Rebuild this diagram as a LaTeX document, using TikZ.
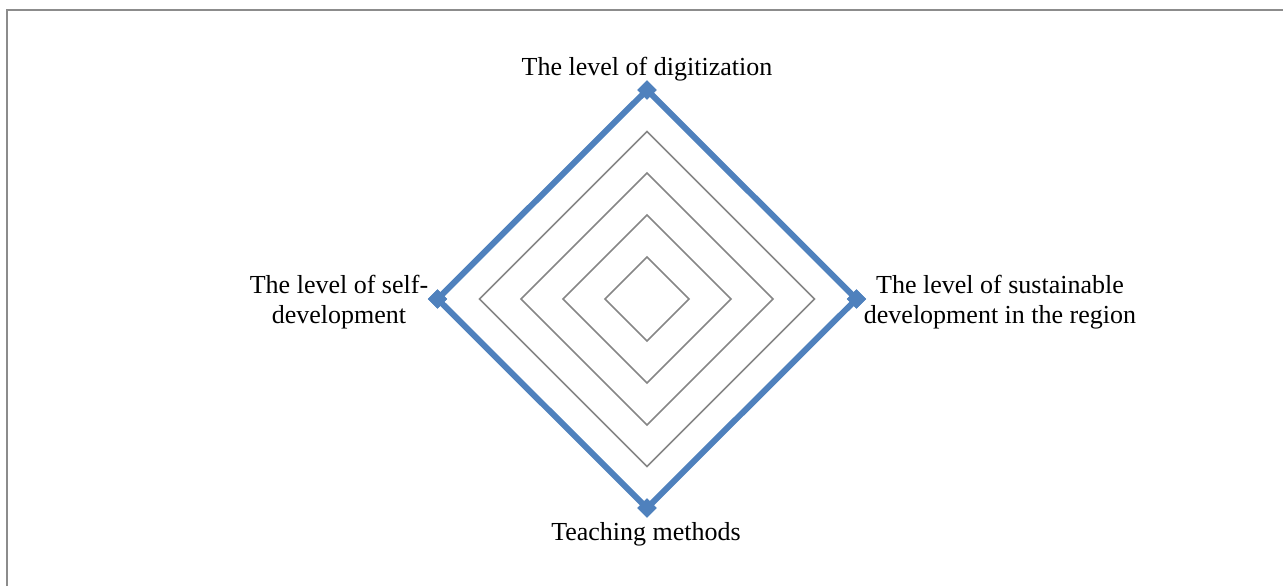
\documentclass[tikz,border=0pt]{standalone}
\usepackage{fontspec}
\setmainfont{Liberation Serif}
\begin{document}
\begin{tikzpicture}[x=0.5pt,y=-0.5pt,
  gridline/.style={draw=gridgray,line width=0.75pt,line join=miter},
  serieslines/.style={draw=seriesblue,line width=3pt,line join=miter},
  markerdot/.style={fill=seriesblue,shape=rectangle,rotate=45,minimum size=6.8pt,inner sep=0pt},
  axislabel/.style={font=\fontsize{13}{15}\selectfont,inner sep=0pt,align=center},
  frameline/.style={draw=framegray,line width=1pt}]
\definecolor{gridgray}{HTML}{868686}
\definecolor{seriesblue}{HTML}{4F81BD}
\definecolor{framegray}{HTML}{8C8C8C}
\useasboundingbox (0,0) rectangle (1283,586);
% frame (only top and left edges visible)
\coordinate (fa) at (6.5,586);
\coordinate (fb) at (6.5,9.5);
\coordinate (fc) at (1283,9.5);
\draw[frameline] (fa) -- (fb) -- (fc);
% grid diamonds
\foreach \r in {42,84,126,167.5}{
  \draw[gridline] (647,299-\r) -- (647+\r,299) -- (647,299+\r) -- (647-\r,299) -- cycle;
}
% data vertices
\node[markerdot] (top) at (647,90) {};
\node[markerdot] (right) at (856.5,299) {};
\node[markerdot] (bottom) at (647,508) {};
\node[markerdot] (left) at (437.5,299) {};
\draw[serieslines] (top.center) -- (right.center) -- (bottom.center) -- (left.center) -- cycle;
\node[markerdot] at (647,90) {};
\node[markerdot] at (856.5,299) {};
\node[markerdot] at (647,508) {};
\node[markerdot] at (437.5,299) {};
% labels
\node[axislabel,anchor=base] (ltop) at (647,75) {The level of digitization};
\node[axislabel,anchor=base] (lbottom) at (646,540) {Teaching methods};
\node[axislabel] (lleft) at (339,302) {The level of self-\\development};
\node[axislabel] (lright) at (1000,302) {The level of sustainable\\development in the region};
\end{tikzpicture}
\end{document}
